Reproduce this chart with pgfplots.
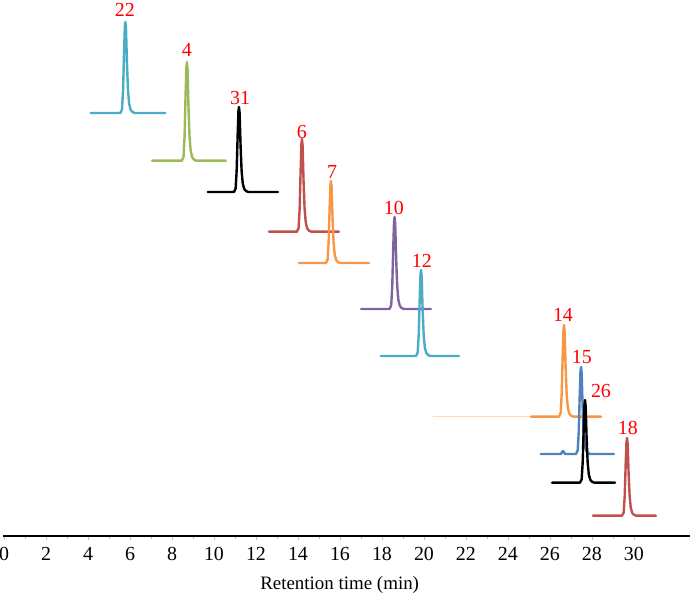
\documentclass[border=0pt]{standalone}
\usepackage{fontspec}
\setmainfont{Liberation Serif}
\usepackage{pgfplots}
\pgfplotsset{compat=1.18}

\definecolor{cAqua}{HTML}{4BACC6}
\definecolor{cGreen}{HTML}{9BBB59}
\definecolor{cRed}{HTML}{C0504D}
\definecolor{cOrange}{HTML}{F79646}
\definecolor{cPurple}{HTML}{8064A2}
\definecolor{cBlue}{HTML}{4F81BD}

\begin{document}
\begin{tikzpicture}[peaklabel/.style={text=red, font=\fontsize{20}{20}\selectfont, inner sep=0pt}]
    \path[use as bounding box] (0,0) rectangle (690bp,600bp);

    \begin{axis}[
        at                 = {(3bp,64bp)},
        anchor             = south west,
        width              = 687bp,
        height             = 536bp,
        scale only axis,
        clip               = false,
        xmin               = -0.048,
        xmax               = 32.67,
        ymin               = 0,
        ymax               = 536,
        axis x line*       = bottom,
        hide y axis,
        x axis line style  = {line width=1.6bp, black},
        xtick              = {0,2,...,30},
        minor x tick num   = 1,
        tick align         = outside,
        major tick length  = 4bp,
        minor tick length  = 3bp,
        xtick style        = {gray!50, line width=0.6bp},
        /pgf/number format/assume math mode=true,
        xticklabel style   = {font=\fontsize{20}{20}\selectfont, yshift=-3.5bp},
        xlabel             = {Retention time (min)},
        xlabel style       = {font=\fontsize{19}{19}\selectfont, at={(axis description cs:0.49,0)}, anchor=north, yshift=-37bp},
        every axis plot/.append style = {line width=2.4bp, line join=round, line cap=round},
    ]

    % peak 22
    \addplot[cAqua] coordinates {
        (4.14,423) (5.54,423) (5.62,426.6) (5.67,445.8) (5.715,482.2) (5.755,509.5) (5.78,514)
        (5.81,507.6) (5.855,473.1) (5.905,445.8) (5.96,432.1) (6.03,426.2) (6.12,423.9) (6.23,423) (7.67,423)
    };
    % peak 4
    \addplot[cGreen] coordinates {
        (7.05,375.3) (8.47,375.3) (8.55,379.2) (8.60,400.0) (8.645,439.5) (8.685,469.1) (8.71,474.0)
        (8.74,467.1) (8.785,429.6) (8.835,400.0) (8.89,385.2) (8.96,378.8) (9.05,376.3) (9.16,375.3) (10.57,375.3)
    };
    % peak 31
    \addplot[black] coordinates {
        (9.71,344) (10.95,344) (11.03,347.4) (11.08,365.3) (11.125,399.3) (11.165,424.8) (11.19,429)
        (11.22,423.1) (11.265,390.8) (11.315,365.3) (11.37,352.5) (11.44,347.0) (11.53,344.9) (11.64,344) (13.05,344)
    };
    % peak 6
    \addplot[cRed] coordinates {
        (12.62,304.3) (13.95,304.3) (14.03,308.0) (14.08,327.5) (14.125,364.6) (14.165,392.4) (14.19,397.0)
        (14.22,390.5) (14.265,355.3) (14.315,327.5) (14.37,313.6) (14.44,307.5) (14.53,305.2) (14.64,304.3) (15.95,304.3)
    };
    % peak 7
    \addplot[cOrange] coordinates {
        (14.05,273) (15.33,273) (15.41,276.3) (15.46,293.5) (15.505,326.3) (15.545,350.9) (15.57,355)
        (15.60,349.3) (15.645,318.1) (15.695,293.5) (15.75,281.2) (15.82,275.9) (15.91,273.8) (16.02,273) (17.38,273)
    };
    % peak 10
    \addplot[cPurple] coordinates {
        (17.0,227) (18.36,227) (18.44,230.7) (18.49,250) (18.535,286.8) (18.575,314.4) (18.6,319)
        (18.63,312.6) (18.675,277.6) (18.725,250) (18.78,236.2) (18.85,230.2) (18.94,227.9) (19.05,227) (20.33,227)
    };
    % peak 12
    \addplot[cAqua] coordinates {
        (17.95,180) (19.62,180) (19.70,183.4) (19.75,201.5) (19.795,235.9) (19.835,261.7) (19.86,266)
        (19.89,260) (19.935,227.3) (19.985,201.5) (20.04,188.6) (20.11,183.0) (20.20,180.9) (20.31,180) (21.67,180)
    };
    % peak 14 (with faint leading baseline)
    \addplot[cOrange!35, line width=0.4bp] coordinates {(20.43,119.6) (25.1,119.6)};
    \addplot[cOrange] coordinates {
        (25.1,119.3) (26.43,119.3) (26.51,123.0) (26.56,142.2) (26.605,178.9) (26.645,206.4) (26.67,211)
        (26.70,204.6) (26.745,169.7) (26.795,142.2) (26.85,128.5) (26.92,122.5) (27.01,120.2) (27.12,119.3) (28.43,119.3)
    };
    % peak 15
    \addplot[cBlue] coordinates {
        (25.57,82) (26.52,82) (26.58,84) (26.62,85) (26.67,83.5) (26.73,82)
        (27.24,82) (27.32,85.5) (27.37,103.8) (27.415,138.6) (27.455,164.7) (27.48,169)
        (27.51,162.9) (27.555,129.9) (27.605,103.8) (27.66,90.7) (27.73,85.0) (27.82,82.9) (27.93,82) (29.05,82)
    };
    % peak 26
    \addplot[black] coordinates {
        (26.1,53.3) (27.43,53.3) (27.51,56.6) (27.56,74.0) (27.605,107.1) (27.645,131.9) (27.67,136)
        (27.70,130.2) (27.745,98.8) (27.795,74.0) (27.85,61.6) (27.92,56.2) (28.01,54.1) (28.12,53.3) (29.1,53.3)
    };
    % peak 18
    \addplot[cRed] coordinates {
        (28.05,20.3) (29.43,20.3) (29.51,23.4) (29.56,39.7) (29.605,70.8) (29.645,94.1) (29.67,98)
        (29.70,92.6) (29.745,63.0) (29.795,39.7) (29.85,28.1) (29.92,23.0) (30.01,21.1) (30.12,20.3) (31.05,20.3)
    };

    % peak labels
    \node[peaklabel] at (axis cs:5.76,526)  {22};
    \node[peaklabel] at (axis cs:8.71,486)  {4};
    \node[peaklabel] at (axis cs:11.24,438) {31};
    \node[peaklabel] at (axis cs:14.19,404) {6};
    \node[peaklabel] at (axis cs:15.62,364) {7};
    \node[peaklabel] at (axis cs:18.57,328) {10};
    \node[peaklabel] at (axis cs:19.90,275) {12};
    \node[peaklabel] at (axis cs:26.62,221) {14};
    \node[peaklabel] at (axis cs:27.52,179) {15};
    \node[peaklabel] at (axis cs:28.43,145) {26};
    \node[peaklabel] at (axis cs:29.71,108) {18};
    \end{axis}
\end{tikzpicture}
\end{document}
